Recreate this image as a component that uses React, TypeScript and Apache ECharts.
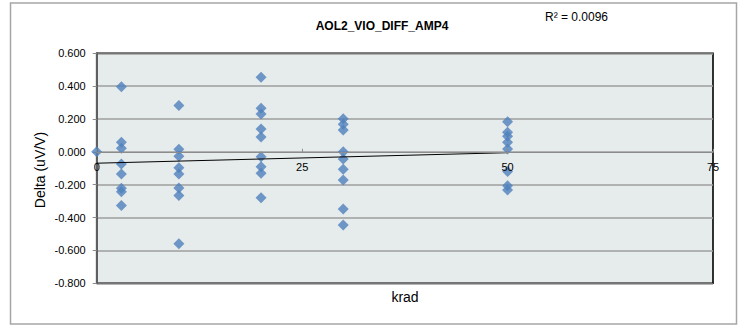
import React, { useEffect, useRef } from "react";
import * as echarts from "echarts";

const chartTitle = "AOL2_VIO_DIFF_AMP4";
const rSquaredLabel = "R² = 0.0096";
const xAxisTitle = "krad";
const yAxisTitle = "Delta (uV/V)";

const doseLevels = [0, 3, 10, 20, 30, 50];
const deltaAt0 = [0.0];
const deltaAt3 = [0.397, 0.058, 0.022, -0.074, -0.135, -0.222, -0.242, -0.327];
const deltaAt10 = [0.283, 0.016, -0.027, -0.096, -0.135, -0.22, -0.266, -0.56];
const deltaAt20 = [0.454, 0.265, 0.231, 0.139, 0.091, -0.029, -0.09, -0.13, -0.279];
const deltaAt30 = [0.202, 0.168, 0.133, 0.0, -0.043, -0.106, -0.171, -0.348, -0.445];
const deltaAt50 = [0.184, 0.119, 0.095, 0.058, 0.018, -0.12, -0.206, -0.232];
const deltaGroups = [deltaAt0, deltaAt3, deltaAt10, deltaAt20, deltaAt30, deltaAt50];

const trendX = [0, 50];
const trendY = [-0.069, -0.005];

const xTicks = [0, 25, 50, 75];
const yTicks = [-0.8, -0.6, -0.4, -0.2, 0, 0.2, 0.4, 0.6];

const FONT = "'Liberation Sans', Arial, sans-serif";

const GRID_TOP = 53.3;
const GRID_BOTTOM = 42.7;
const CHART_H = 326;

export default function App() {
  const ref = useRef<HTMLDivElement>(null);
  useEffect(() => {
    if (!ref.current) return;
    const chart = echarts.init(ref.current, null, { renderer: "svg" });
    const points: number[][] = [];
    deltaGroups.forEach((g, i) => g.forEach((v) => points.push([doseLevels[i], v])));
    const trend = trendX.map((x, i) => [x, trendY[i]]);
    const yMin = yTicks[0];
    const yMax = yTicks[yTicks.length - 1];
    const plotH = CHART_H - GRID_TOP - GRID_BOTTOM;
    const zeroOffset = -((0 - yMin) / (yMax - yMin)) * plotH;
    chart.setOption({
      animation: false,
      backgroundColor: "#ffffff",
      textStyle: { fontFamily: FONT },
      grid: {
        left: 96.7,
        right: 29,
        top: GRID_TOP,
        bottom: GRID_BOTTOM,
        show: true,
        backgroundColor: "#E6EBEB",
        borderColor: "#000000",
        borderWidth: 1.6,
      },
      xAxis: {
        type: "value",
        min: xTicks[0],
        max: xTicks[xTicks.length - 1],
        interval: 25,
        offset: zeroOffset,
        z: 10,
        axisLine: { onZero: false, lineStyle: { color: "#8c8c8c", width: 1 } },
        axisTick: { show: true, inside: true, length: 3, lineStyle: { color: "#8c8c8c" } },
        axisLabel: { color: "#000", fontSize: 11, margin: 10, fontFamily: FONT },
        splitLine: { show: false },
      },
      yAxis: {
        type: "value",
        min: yMin,
        max: yMax,
        interval: 0.2,
        axisLine: { show: true, onZero: false, lineStyle: { color: "#5f5f5f", width: 2 } },
        axisTick: { show: true, length: 4, lineStyle: { color: "#8c8c8c" } },
        axisLabel: {
          color: "#000",
          fontSize: 11,
          margin: 11,
          fontFamily: FONT,
          formatter: (v: number) => v.toFixed(3),
        },
        splitLine: { show: true, lineStyle: { color: "#9e9e9e", width: 1.5 } },
      },
      series: [
        {
          type: "scatter",
          data: points,
          symbol: "diamond",
          symbolSize: 11,
          itemStyle: { color: "#4F81BD" },
          z: 3,
        },
        {
          type: "line",
          data: trend,
          symbol: "none",
          lineStyle: { color: "#000000", width: 1 },
          z: 4,
        },
      ],
      graphic: [
        {
          type: "rect",
          shape: { x: 10.5, y: 3, width: 726, height: 321 },
          style: { fill: "none", stroke: "#a6a6a6", lineWidth: 1.5 },
          silent: true,
          z: -1,
        },
        {
          type: "text",
          x: 382,
          y: 26,
          style: {
            text: chartTitle,
            fontFamily: FONT,
            fontSize: 12,
            fontWeight: "bold",
            fill: "#000",
            align: "center",
            verticalAlign: "middle",
          },
        },
        {
          type: "text",
          x: 545,
          y: 17,
          style: {
            text: rSquaredLabel,
            fontFamily: FONT,
            fontSize: 12,
            fill: "#000",
            align: "left",
            verticalAlign: "middle",
          },
        },
        {
          type: "text",
          x: 405,
          y: 297,
          style: {
            text: xAxisTitle,
            fontFamily: FONT,
            fontSize: 14,
            fill: "#000",
            align: "center",
            verticalAlign: "middle",
          },
        },
        {
          type: "text",
          x: 40,
          y: 170,
          rotation: Math.PI / 2,
          style: {
            text: yAxisTitle,
            fontFamily: FONT,
            fontSize: 14,
            fill: "#000",
            align: "center",
            verticalAlign: "middle",
          },
        },
      ],
    });
    return () => chart.dispose();
  }, []);
  return (
    <div
      ref={ref}
      style={{ position: "fixed", left: 0, top: 0, width: 742, height: 326 }}
    />
  );
}
